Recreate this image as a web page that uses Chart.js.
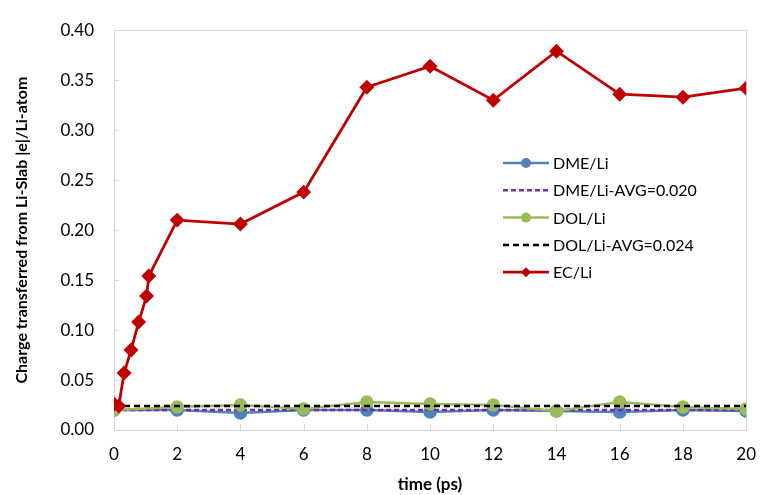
<!DOCTYPE html>
<html>
<head>
<meta charset="utf-8">
<script src="https://cdn.jsdelivr.net/npm/chart.js@4/dist/chart.umd.min.js"></script>
<style>
  html, body { margin: 0; padding: 0; background: #fff; }
  #wrap { width: 770px; height: 495px; position: relative; }
</style>
</head>
<body>
<div id="wrap"><canvas id="c" width="770" height="495"></canvas></div>
<script>
// ---- data ----
const evenTimes = [0, 2, 4, 6, 8, 10, 12, 14, 16, 18, 20];
const dmeValues = [0.020, 0.020, 0.017, 0.020, 0.020, 0.018, 0.020, 0.019, 0.018, 0.020, 0.019];
const dolValues = [0.020, 0.023, 0.025, 0.021, 0.028, 0.026, 0.025, 0.019, 0.028, 0.023, 0.021];
const dmeAvg = 0.020;
const dolAvg = 0.024;
const ecTimes  = [0, 0.15, 0.32, 0.54, 0.78, 1.03, 1.1, 2, 4, 6, 8, 10, 12, 14, 16, 18, 20];
const ecValues = [0.026, 0.024, 0.057, 0.080, 0.108, 0.134, 0.154, 0.210, 0.206, 0.238, 0.343, 0.364, 0.330, 0.379, 0.336, 0.333, 0.342];
const labels = ['DME/Li', 'DME/Li-AVG=0.020', 'DOL/Li', 'DOL/Li-AVG=0.024', 'EC/Li'];
const xTitle = 'time (ps)';
const yTitle = 'Charge transferred from Li-Slab |e|/Li-atom';

const FONT = 'Lato, "Open Sans", sans-serif';
const pts = (xs, ys) => xs.map((x, i) => ({ x: x, y: ys[i] }));
const flat = (v) => [{ x: evenTimes[0], y: v }, { x: evenTimes[evenTimes.length - 1], y: v }];

const datasets = [
  { label: labels[0], data: pts(evenTimes, dmeValues), borderColor: '#4f81bd', backgroundColor: '#4f81bd',
    borderWidth: 2.5, pointStyle: 'circle', pointRadius: 5.5, order: 4 },
  { label: labels[1], data: flat(dmeAvg), borderColor: '#7030a0', backgroundColor: '#7030a0',
    borderWidth: 2.5, borderDash: [5, 3], pointRadius: 0, order: 3 },
  { label: labels[2], data: pts(evenTimes, dolValues), borderColor: '#9bbb59', backgroundColor: '#9bbb59',
    borderWidth: 2.5, pointStyle: 'circle', pointRadius: 5.5, order: 2 },
  { label: labels[3], data: flat(dolAvg), borderColor: '#000000', backgroundColor: '#000000',
    borderWidth: 2.5, borderDash: [6, 4], pointRadius: 0, order: 1 },
  { label: labels[4], data: pts(ecTimes, ecValues), borderColor: '#c00000', backgroundColor: '#c00000',
    borderWidth: 2.8, pointStyle: 'rectRot', pointRadius: 5.5, order: 0 }
];

const frameAndTicks = {
  id: 'frameAndTicks',
  beforeDatasetsDraw(chart) {
    const ctx = chart.ctx, a = chart.chartArea;
    const xs = chart.scales.x, ys = chart.scales.y;
    ctx.save();
    ctx.strokeStyle = '#d9d9d9';
    ctx.lineWidth = 1;
    ctx.strokeRect(Math.round(a.left) + 0.5, Math.round(a.top) + 0.5,
                   Math.round(a.right - a.left), Math.round(a.bottom - a.top));
    ctx.beginPath();
    xs.ticks.forEach(t => {
      const px = Math.round(xs.getPixelForValue(t.value)) + 0.5;
      ctx.moveTo(px, a.bottom); ctx.lineTo(px, a.bottom - 6);
    });
    ys.ticks.forEach(t => {
      const py = Math.round(ys.getPixelForValue(t.value)) + 0.5;
      ctx.moveTo(a.left, py); ctx.lineTo(a.left + 5, py);
    });
    ctx.stroke();
    ctx.restore();
  }
};

const insideLegend = {
  id: 'insideLegend',
  afterDraw(chart) {
    const ctx = chart.ctx;
    const x0 = 503, x1 = 549, tx = 553;
    const y0 = 163, dy = 27.3;
    ctx.save();
    ctx.font = '16px ' + FONT;
    ctx.textBaseline = 'middle';
    chart.data.datasets.forEach((ds, i) => {
      const y = y0 + i * dy;
      ctx.strokeStyle = ds.borderColor;
      ctx.lineWidth = ds.borderWidth;
      ctx.setLineDash(ds.borderDash || []);
      ctx.beginPath(); ctx.moveTo(x0, y); ctx.lineTo(x1, y); ctx.stroke();
      ctx.setLineDash([]);
      if (ds.pointRadius > 0) {
        const r = ds.pointRadius - 0.5, cx = (x0 + x1) / 2;
        ctx.fillStyle = ds.backgroundColor;
        ctx.beginPath();
        if (ds.pointStyle === 'circle') {
          ctx.arc(cx, y, r, 0, Math.PI * 2);
        } else {
          ctx.moveTo(cx, y - r); ctx.lineTo(cx + r, y); ctx.lineTo(cx, y + r); ctx.lineTo(cx - r, y); ctx.closePath();
        }
        ctx.fill();
      }
      ctx.fillStyle = '#000';
      ctx.fillText(ds.label, tx, y + 1);
    });
    ctx.restore();
  }
};

new Chart(document.getElementById('c'), {
  type: 'line',
  data: { datasets: datasets },
  options: {
    responsive: false,
    animation: false,
    devicePixelRatio: 1,
    layout: { padding: { left: 0, top: 23, right: 15, bottom: 0 } },
    plugins: { legend: { display: false }, tooltip: { enabled: false } },
    elements: { line: { tension: 0 } },
    scales: {
      x: {
        type: 'linear', min: 0, max: 20,
        ticks: { stepSize: 2, color: '#000', font: { family: FONT, size: 17 }, padding: 14, maxRotation: 0 },
        grid: { display: false, drawTicks: false },
        border: { display: false },
        title: { display: true, text: xTitle, color: '#000', font: { family: FONT, size: 17, weight: 'bold' }, padding: { top: 0, bottom: 0 } },
        afterFit(s) { s.height = 65; }
      },
      y: {
        min: 0, max: 0.4,
        ticks: { stepSize: 0.05, color: '#000', font: { family: FONT, size: 17 }, padding: 20,
                 callback: v => Number(v).toFixed(2) },
        grid: { display: false, drawTicks: false },
        border: { display: false },
        title: { display: true, text: yTitle, color: '#000', font: { family: FONT, size: 16, weight: 'bold' }, padding: { top: 12, bottom: 0 } },
        afterFit(s) { s.width = 114; }
      }
    }
  },
  plugins: [frameAndTicks, insideLegend]
});
</script>
</body>
</html>
